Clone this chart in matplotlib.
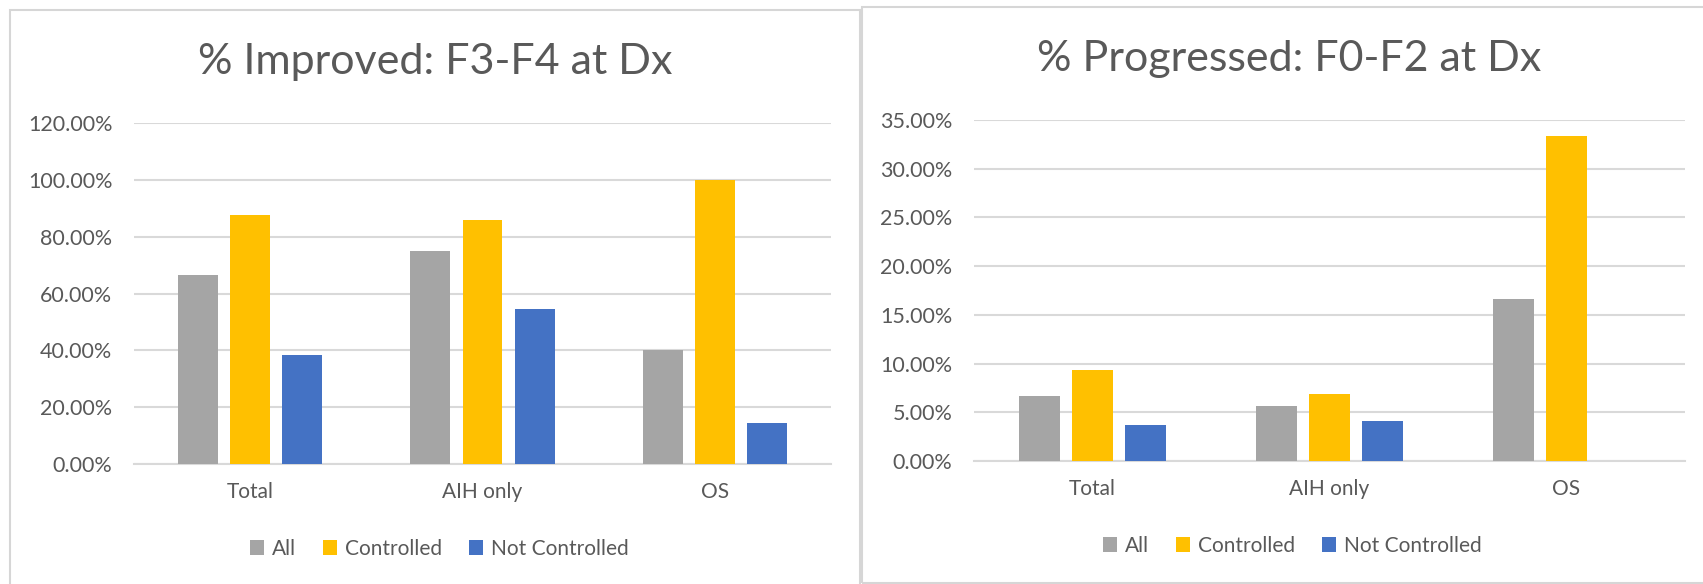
import matplotlib
matplotlib.use("Agg")
import matplotlib.pyplot as plt
from matplotlib.patches import Rectangle, Patch
from matplotlib.ticker import FuncFormatter

plt.rcParams['font.family'] = ['Lato', 'DejaVu Sans']

categories = ["Total", "AIH only", "OS"]
series_names = ["All", "Controlled", "Not Controlled"]

improved_all = [0.6667, 0.75, 0.40]
improved_controlled = [0.875, 0.8571, 1.00]
improved_not_controlled = [0.3846, 0.5455, 0.1429]

progressed_all = [0.0667, 0.0566, 0.1667]
progressed_controlled = [0.0938, 0.0686, 0.3333]
progressed_not_controlled = [0.0366, 0.0408, 0.0]

improved_ticks = [0.0, 0.2, 0.4, 0.6, 0.8, 1.0, 1.2]
progressed_ticks = [0.0, 0.05, 0.10, 0.15, 0.20, 0.25, 0.30, 0.35]

colors = ["#A5A5A5", "#FFC000", "#4472C4"]
text_color = "#595959"
grid_color = "#D9D9D9"

W, H = 1703, 584
fig = plt.figure(figsize=(W / 100, H / 100), dpi=100)
fig.patch.set_facecolor("white")


def px_box(x0, x1, ytop, ybot):
    return [x0 / W, 1 - ybot / H, (x1 - x0) / W, (ybot - ytop) / H]


# panel frames
fig.add_artist(Rectangle((10 / W, -0.05), 850 / W, 1.05 - 10 / H, transform=fig.transFigure,
                         fill=False, edgecolor="#D6D6D6", linewidth=1.5))
fig.add_artist(Rectangle((862 / W, 1 - 583 / H), 900 / W, (583 - 7) / H, transform=fig.transFigure,
                         fill=False, edgecolor="#D6D6D6", linewidth=1.5))


def draw_panel(rect, series, ticks, title, title_xy, legend_xy):
    ax = fig.add_axes(rect)
    n = len(series)
    width = 0.172
    step = 0.224
    xs = range(len(categories))
    for i, (vals, c, name) in enumerate(zip(series, colors, series_names)):
        pos = [x + (i - (n - 1) / 2) * step for x in xs]
        ax.bar(pos, vals, width=width, color=c, label=name, zorder=3)
    ax.set_xlim(-0.5, len(categories) - 0.5)
    ax.set_ylim(ticks[0], ticks[-1])
    ax.set_yticks(ticks)
    ax.yaxis.set_major_formatter(FuncFormatter(lambda v, p: f"{v * 100:.2f}%"))
    ax.set_xticks(list(xs))
    ax.set_xticklabels(categories)
    ax.grid(axis="y", color=grid_color, linewidth=1.5, zorder=0)
    ax.tick_params(axis="y", length=0, pad=15.5, labelsize=15.5, labelcolor=text_color)
    ax.tick_params(axis="x", length=0, pad=13, labelsize=15, labelcolor=text_color)
    for s in ["top", "right", "left"]:
        ax.spines[s].set_visible(False)
    ax.spines["bottom"].set_color(grid_color)
    ax.spines["bottom"].set_linewidth(1.5)
    ax.spines["bottom"].set_zorder(1)
    fig.text(title_xy[0] / W, 1 - title_xy[1] / H, title, ha="center", va="center",
             fontsize=31, color=text_color)
    handles = [Patch(facecolor=c, edgecolor="none") for c in colors]
    fig.legend(handles, series_names, loc="center", bbox_to_anchor=(legend_xy[0] / W, 1 - legend_xy[1] / H),
               ncol=3, frameon=False, fontsize=15, labelcolor=text_color,
               handlelength=0.7, handleheight=0.75, handletextpad=0.35, columnspacing=1.3)
    return ax


draw_panel(px_box(134, 831, 123, 464),
           [improved_all, improved_controlled, improved_not_controlled],
           improved_ticks, "% Improved: F3-F4 at Dx", (435, 62), (439, 549))

draw_panel(px_box(974, 1685, 120, 461),
           [progressed_all, progressed_controlled, progressed_not_controlled],
           progressed_ticks, "% Progressed: F0-F2 at Dx", (1289, 59), (1292, 546))

fig.savefig("out.png", dpi=100, facecolor="white")
